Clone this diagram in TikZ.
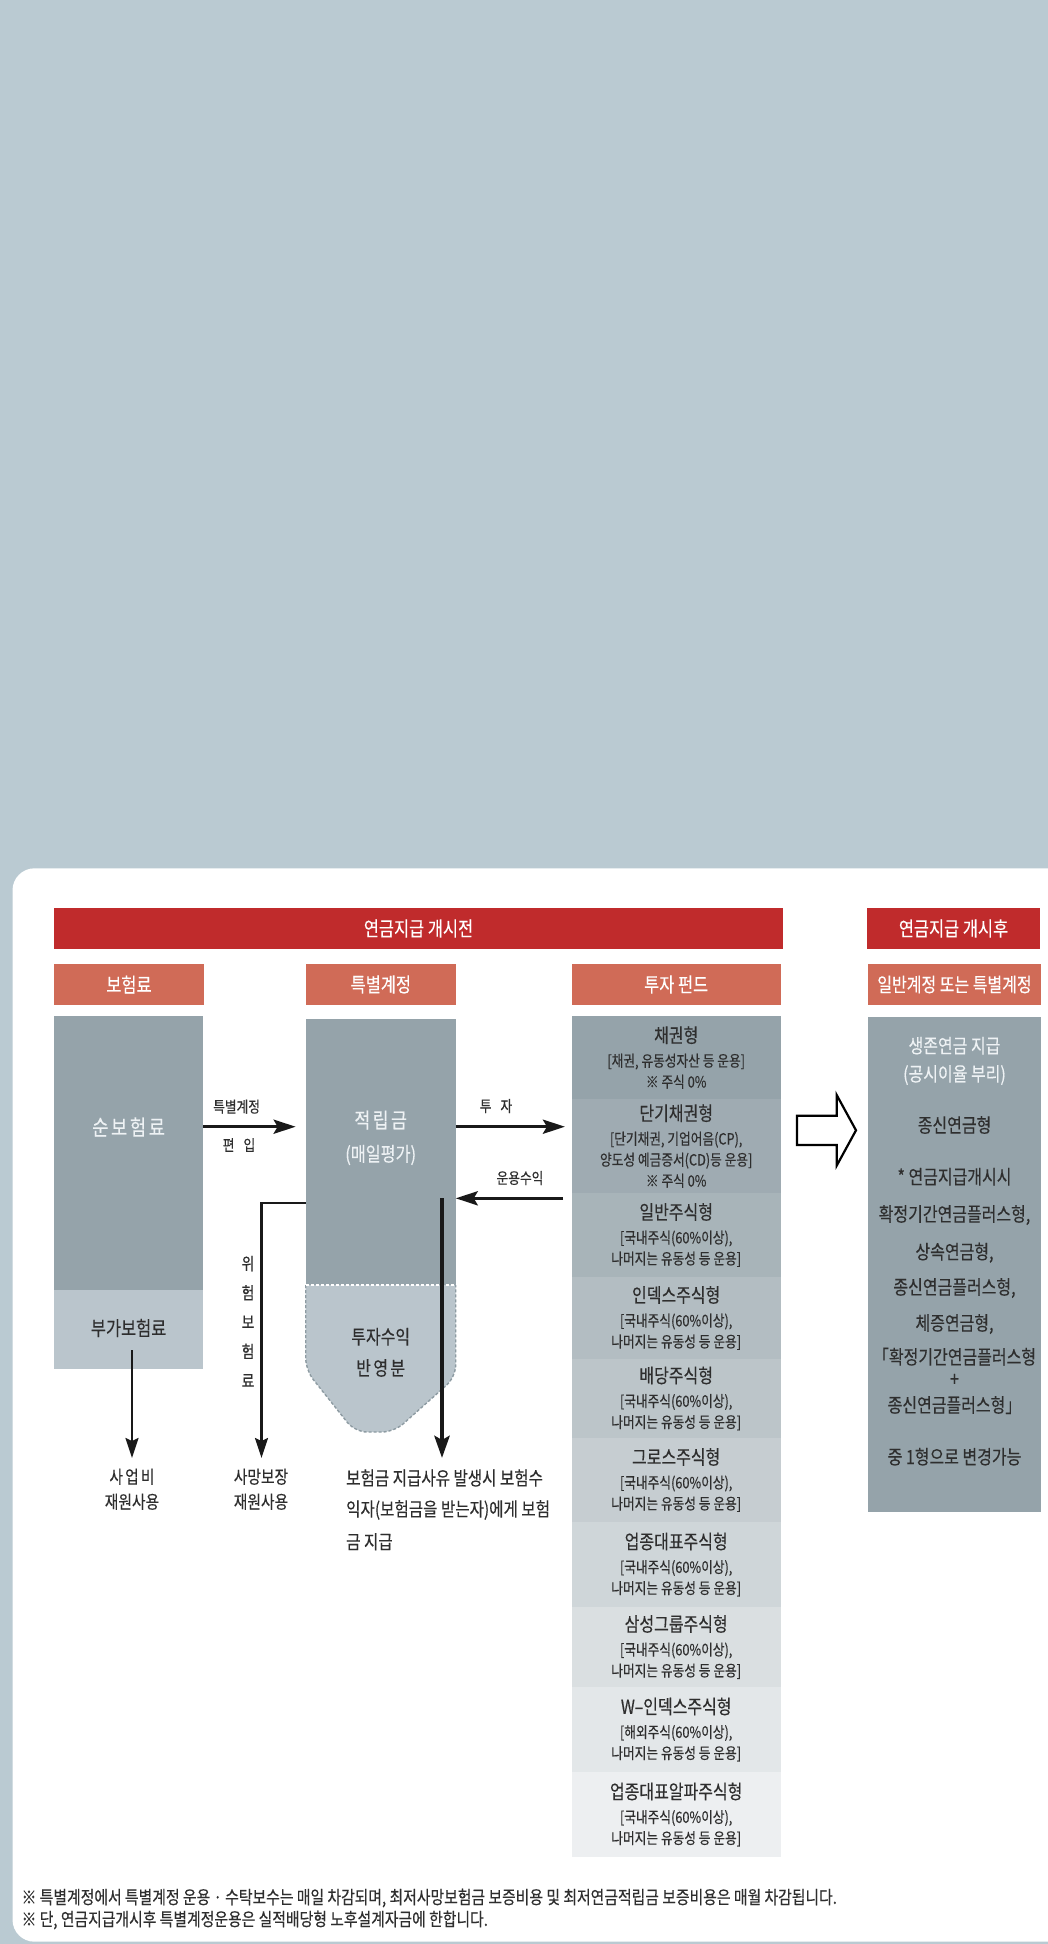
\documentclass[tikz,border=0pt]{standalone}
\usepackage{fontspec}
\usepackage{xcolor}
\usepackage{tikz}
\usetikzlibrary{arrows.meta,fit}
\setmainfont{Noto Sans CJK KR}[FakeStretch=0.82,FakeBold=0.3]
\newfontfamily\krwide{Noto Sans CJK KR}[FakeStretch=0.82,FakeBold=0.3,LetterSpace=12]
\newfontfamily\krspread{Noto Sans CJK KR}[FakeStretch=0.82,FakeBold=0.3,LetterSpace=40]
\newcommand{\fsz}[2]{\fontsize{#1}{#2}\selectfont}
\newcommand{\fundtitle}{\fsz{19.5}{22}}

\definecolor{backblue}{HTML}{BACAD2}
\definecolor{headred}{HTML}{C02B2C}
\definecolor{headsalmon}{HTML}{D06B57}
\definecolor{boxgrey}{HTML}{95A3AA}
\definecolor{boxlight}{HTML}{BAC5CC}
\definecolor{dashgrey}{HTML}{8D9BA2}
\definecolor{inkdark}{HTML}{2E2E2E}
\definecolor{inklight}{HTML}{EEF2F4}

\tikzset{
  block/.style={draw=none, inner sep=0pt, outer sep=0pt},
  headtxt/.style={text=white, inner sep=0pt, font=\fsz{20}{22}},
  lbl/.style={text=inkdark, inner sep=0pt, font=\fsz{18}{20}},
  fundtxt/.style={text=inkdark, align=center, inner sep=0pt, font=\fsz{15.5}{21}},
  rtxt/.style={text=inkdark, inner sep=0pt, font=\fsz{19.5}{22}},
  flow/.style={draw=black!90, line width=3.5pt, -{Stealth[length=22pt,width=14pt,inset=4pt]}},
  drop/.style={draw=black!90, line width=2.2pt, -{Stealth[length=20pt,width=13pt,inset=3pt]}},
}

\begin{document}
\begin{tikzpicture}[x=1pt,y=-1pt]
\useasboundingbox (0,0) rectangle (1048,1944);
\fill[backblue] (0,0) rectangle (1048,1944);
\begin{scope}
  \clip (0,0) rectangle (1048,1944);
  \fill[white, rounded corners=22pt] (12.5,868.3) rectangle (1090,1941.7);
\end{scope}

\node[block, fill=headred, fit={(54.3,908) (782.7,949)}] (before) {};
\node[headtxt] (beforetxt) at (before) {연금지급 개시전};
\node[block, fill=headred, fit={(867,908) (1040,949)}] (after) {};
\node[headtxt] (aftertxt) at (after) {연금지급 개시후};

\node[block, fill=headsalmon, fit={(54.3,964) (203.6,1005)}] (premhead) {};
\node[headtxt] (premheadtxt) at (premhead) {보험료};
\node[block, fill=headsalmon, fit={(306,964) (455.7,1005)}] (accthead) {};
\node[headtxt] (acctheadtxt) at (accthead) {특별계정};
\node[block, fill=headsalmon, fit={(571.7,964) (780.7,1005)}] (fundhead) {};
\node[headtxt] (fundheadtxt) at (fundhead) {투자 펀드};
\node[block, fill=headsalmon, fit={(868,964) (1041,1005)}] (payhead) {};
\node[headtxt, font=\fsz{19.5}{22}] (payheadtxt) at (payhead) {일반계정 또는 특별계정};

\node[block, fill=boxgrey, fit={(54.3,1016) (203,1290)}] (netprem) {};
\node[block, fill=boxlight, fit={(54.3,1290) (203,1369.3)}] (loadprem) {};
\node[block, fill=boxgrey, fit={(305.7,1019) (455.7,1285)}] (reserve) {};
\path[fill=boxlight, draw=dashgrey, line width=1.4pt, dash pattern=on 3pt off 2pt, rounded corners=12pt]
  (305.7,1285) -- (305.7,1370) -- (355,1432) -- (394,1432) -- (455.7,1377) -- (455.7,1285);
\draw[white, line width=1.4pt, dash pattern=on 3pt off 2pt] (305.7,1285) -- (455.7,1285);

\foreach \i/\ytop/\ybot/\pct in {1/1016/1099/100, 2/1099/1193/91, 3/1193/1277/82, 4/1277/1359/72,
    5/1359/1438/63, 6/1438/1522/54, 7/1522/1607/45, 8/1607/1687/35, 9/1687/1772/26, 10/1772/1857/17}
  \node[block, fill=boxgrey!\pct!white, fit={(571.7,\ytop) (780.7,\ybot)}] (fund\i) {};

\node[block, fill=boxgrey, fit={(868,1017) (1041,1512)}] (payout) {};

\draw[black, fill=white, line width=2.2pt, line join=miter]
  (797,1115.7) -- (836.7,1115.7) -- (836.7,1095) -- (856,1130.3) -- (836.7,1165.6)
  -- (836.7,1145) -- (797,1145) -- cycle;

\coordinate (yin) at (0,1126.7);
\coordinate (yret) at (0,1198.3);
\coordinate (yrisk) at (0,1203.3);
\coordinate (loadstart) at (132,1350);
\coordinate (loadend) at (132,1458);
\coordinate (riskend) at (261.5,1458);
\coordinate (paystart) at (442,1198.3);
\coordinate (payend) at (442,1458);

\draw[flow, shorten >=10pt] (netprem.east |- yin) -- (reserve.west |- yin);
\draw[flow, shorten >=6.7pt] (reserve.east |- yin) -- (fund1.west |- yin);
\draw[flow, shorten <=8.7pt] (fund2.west |- yret) -- (reserve.east |- yret);
\draw[drop] (reserve.west |- yrisk) -| (riskend);
\draw[drop] (loadstart) -- (loadend);
\draw[draw=black!90, line width=4.5pt, -{Stealth[length=22pt,width=15pt,inset=4pt]}] (paystart) -- (payend);

\node[text=inklight, inner sep=0pt, font=\krwide\fsz{21.5}{22}] (netpremtxt) at (128.6,1127) {순보험료};
\node[rtxt, font=\fsz{20}{22}] (loadpremtxt) at (128.6,1328) {부가보험료};
\node[text=inklight, inner sep=0pt, font=\krwide\fsz{21}{22}] (reservetxt) at (380.7,1120) {적립금};
\node[text=inklight, inner sep=0pt, font=\fsz{19.8}{22}] (dailytxt) at (380.7,1155) {(매일평가)};
\node[rtxt] (gaintxt) at (380.7,1336.7) {투자수익};
\node[rtxt, font=\krwide\fsz{19.5}{22}] (gaintxt2) at (380.7,1368) {반영분};

\node[lbl, font=\fsz{15.5}{16}] (movetxt) at (236.6,1106.7) {특별계정};
\node[lbl, font=\krspread\fsz{15.5}{16}] (movetxt2) at (239,1145) {편 입};
\node[lbl, font=\krspread\fsz{15.5}{16}] (investtxt) at (496,1106) {투 자};
\node[lbl, font=\fsz{15.5}{16}] (returntxt) at (520,1178) {운용수익};
\node[lbl, align=center, font=\fsz{17}{29.3}] (risktxt) at (248,1321.5) {위\\험\\보\\험\\료};

\node[lbl, font=\krwide\fsz{18}{20}] (costtxt) at (132,1476.7) {사업비};
\node[lbl] (costtxt2) at (132,1501.7) {재원사용};
\node[lbl] (deathtxt) at (261,1476.7) {사망보장};
\node[lbl] (deathtxt2) at (261,1501.7) {재원사용};
\node[lbl, anchor=west, font=\fsz{19}{20}] (claimtxt) at (346,1478) {보험금 지급사유 발생시 보험수};
\node[lbl, anchor=west, font=\fsz{19}{20}] (claimtxt2) at (346,1510) {익자(보험금을 받는자)에게 보험};
\node[lbl, anchor=west, font=\fsz{19}{20}] (claimtxt3) at (346,1541.7) {금 지급};

\node[fundtxt] (fundtxt1) at (fund1) {{\fundtitle 채권형}\\[3pt] {[}채권, 유동성자산 등 운용{]}\\ ※ 주식 0\%};
\node[fundtxt] (fundtxt2) at (fund2) {{\fundtitle 단기채권형}\\[3pt] {[}단기채권, 기업어음(CP),\\ 양도성 예금증서(CD)등 운용{]}\\ ※ 주식 0\%};
\node[fundtxt] (fundtxt3) at (fund3) {{\fundtitle 일반주식형}\\[3pt] {[}국내주식(60\%이상),\\ 나머지는 유동성 등 운용{]}};
\node[fundtxt] (fundtxt4) at (fund4) {{\fundtitle 인덱스주식형}\\[3pt] {[}국내주식(60\%이상),\\ 나머지는 유동성 등 운용{]}};
\node[fundtxt] (fundtxt5) at (fund5) {{\fundtitle 배당주식형}\\[3pt] {[}국내주식(60\%이상),\\ 나머지는 유동성 등 운용{]}};
\node[fundtxt] (fundtxt6) at (fund6) {{\fundtitle 그로스주식형}\\[3pt] {[}국내주식(60\%이상),\\ 나머지는 유동성 등 운용{]}};
\node[fundtxt] (fundtxt7) at (fund7) {{\fundtitle 업종대표주식형}\\[3pt] {[}국내주식(60\%이상),\\ 나머지는 유동성 등 운용{]}};
\node[fundtxt] (fundtxt8) at (fund8) {{\fundtitle 삼성그룹주식형}\\[3pt] {[}국내주식(60\%이상),\\ 나머지는 유동성 등 운용{]}};
\node[fundtxt] (fundtxt9) at (fund9) {{\fundtitle W–인덱스주식형}\\[3pt] {[}해외주식(60\%이상),\\ 나머지는 유동성 등 운용{]}};
\node[fundtxt] (fundtxt10) at (fund10) {{\fundtitle 업종대표알파주식형}\\[3pt] {[}국내주식(60\%이상),\\ 나머지는 유동성 등 운용{]}};

\node[rtxt, text=inklight] (paytxt1) at (954.5,1045.7) {생존연금 지급};
\node[rtxt, text=inklight] (paytxt2) at (954.5,1075) {(공시이율 부리)};
\foreach \y/\t [count=\k from 3] in {1125/종신연금형, 1176.7/{* 연금지급개시시}, 1215/{확정기간연금플러스형,},
    1252.7/{상속연금형,}, 1288/{종신연금플러스형,}, 1324/{체증연금형,}, 1356.7/{「확정기간연금플러스형},
    1380/+, 1405/{종신연금플러스형」}, 1456.7/{중 1형으로 변경가능}}
  \node[rtxt] (paytxt\k) at (954.5,\y) {\t};

\node[lbl, anchor=west, font=\fsz{18.1}{20}] (note1) at (21.4,1898) {※ 특별계정에서 특별계정 운용 · 수탁보수는 매일 차감되며, 최저사망보험금 보증비용 및 최저연금적립금 보증비용은 매월 차감됩니다.};
\node[lbl, anchor=west, font=\fsz{18.1}{20}] (note2) at (21.4,1920) {※ 단, 연금지급개시후 특별계정운용은 실적배당형 노후설계자금에 한합니다.};
\end{tikzpicture}
\end{document}
